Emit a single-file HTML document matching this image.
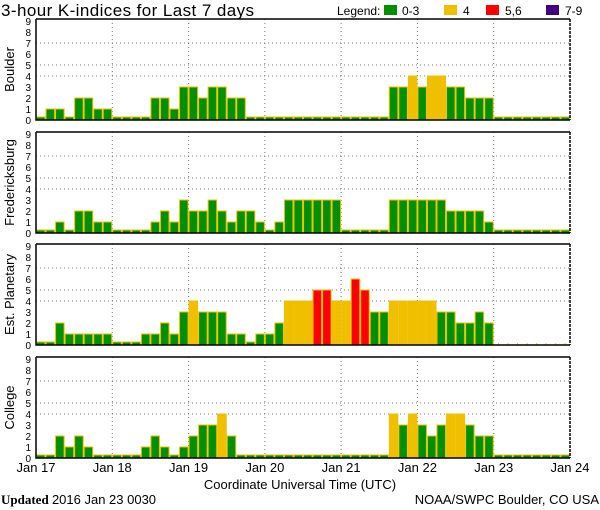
<!DOCTYPE html>
<html><head><meta charset="utf-8"><style>
body{margin:0;background:#fff;width:600px;height:510px;overflow:hidden}
svg{display:block;font-family:"Liberation Sans",sans-serif}
</style></head><body>
<svg id="chart" width="600" height="510" viewBox="0 0 600 510">
<text x="1" y="16" font-size="17" textLength="253">3-hour K-indices for Last 7 days</text>
<g font-size="12">
<text x="337" y="15">Legend:</text>
<rect x="384" y="5" width="13" height="10" fill="#009000"/><text x="402" y="15">0-3</text>
<rect x="444" y="5" width="13" height="10" fill="#f0c000"/><text x="463" y="15">4</text>
<rect x="486" y="5" width="13" height="10" fill="#ff0000"/><text x="505" y="15">5,6</text>
<rect x="546" y="5" width="13" height="10" fill="#400080"/><text x="565" y="15">7-9</text>
</g>
<text x="300" y="489" font-size="13" text-anchor="middle">Coordinate Universal Time (UTC)</text>
<text x="1" y="504" font-size="13" font-family="Liberation Serif,serif"><tspan font-weight="bold">Updated</tspan> <tspan font-family="Liberation Sans,sans-serif">2016 Jan 23 0030</tspan></text>
<text x="599" y="504" font-size="13" text-anchor="end">NOAA/SWPC Boulder, CO USA</text>
</svg>
<script>
const dayLabels = ["Jan 17","Jan 18","Jan 19","Jan 20","Jan 21","Jan 22","Jan 23","Jan 24"];
const stationNames = ["Boulder","Fredericksburg","Est. Planetary","College"];
const yTicks = [0,1,2,3,4,5,6,7,8,9];
const gridLevels = [4,5,7];
const boulder = [0,1,1,0,2,2,1,1, 0,0,0,0,2,2,1,3, 3,2,3,3,2,2,0,0, 0,0,0,0,0,0,0,0, 0,0,0,0,0,3,3,4, 3,4,4,3,3,2,2,2, 0,0,0,0,0,0,0,0];
const fredericksburg = [0,0,1,0,2,2,1,1, 0,0,0,0,1,2,1,3, 2,2,3,2,1,2,2,1, 0,1,3,3,3,3,3,3, 0,0,0,0,0,3,3,3, 3,3,3,2,2,2,2,1, 0,0,0,0,0,0,0,0];
const planetary = [0,0,2,1,1,1,1,1, 0,0,0,1,1,2,1,3, 4,3,3,3,1,1,0,1, 1,2,4,4,4,5,5,4, 4,6,5,3,3,4,4,4, 4,4,3,3,2,2,3,2, null,null,null,null,null,null,null,null];
const college = [0,0,2,1,2,1,0,0, 0,0,0,1,2,1,0,1, 2,3,3,4,2,0,0,0, 0,0,0,0,0,0,0,0, 0,0,0,0,0,4,3,4, 3,2,3,4,4,3,2,2, 0,0,0,0,0,0,0,0];
const series = [boulder, fredericksburg, planetary, college];

const NS="http://www.w3.org/2000/svg";
const svg=document.getElementById('chart');
const X0=36, X1=570, NBARS=56;
const panelTops=[19,132,244,357], PH=101;
function xScale(i){return X0+(X1-X0)*i/NBARS;}
function yScale(v,top){return top+PH-v*(PH-2)/9;}
function mk(tag,attrs,parent){const e=document.createElementNS(NS,tag);for(const k in attrs)e.setAttribute(k,attrs[k]);(parent||svg).appendChild(e);return e;}
function col(v){return v<=3?"#009000":v==4?"#f0c000":v<=6?"#ff0000":"#400080";}

series.forEach((data,p)=>{
  const top=panelTops[p], bot=top+PH;
  const g=mk('g',{});
  
  
  gridLevels.forEach(l=>{const ln=mk('line',{x1:X0,x2:X1,y1:yScale(l,top),y2:yScale(l,top),stroke:"#777","stroke-dasharray":"1,3"},g);
    });
  for(let d=1;d<7;d++){const x=xScale(d*8);const ln=mk('line',{x1:x,x2:x,y1:top,y2:bot,stroke:"#777","stroke-dasharray":"1,3"},g);
    }
  const bw=(X1-X0)/NBARS;
  data.forEach((v,i)=>{
    const x=xScale(i);
    if(v===null){const t=mk('rect',{x:x+bw/2-0.5,y:bot-2,width:1,height:2,fill:"#f0c000"},g);
      return;}
    const y=v===0?bot-3:yScale(v,top);
    const r=mk('rect',{x:x+0.5,y:y,width:bw-1,height:bot-y,fill:col(v),stroke:"#f0c000","stroke-width":1},g);
    
    
  });
  const f=mk('path',{d:`M${X0} ${top}H${X1}M${X0} ${top}V${bot}H${X1}`,stroke:"#000","stroke-width":1.5,fill:"none"},g);
  
  const rb=mk('line',{x1:X1,x2:X1,y1:top,y2:bot,stroke:"#000","stroke-width":1.5,"stroke-dasharray":"3,1"},g);
  
  yTicks.forEach(t=>{const tx=mk('text',{x:31,y:yScale(t,top)+4,"font-size":10,"text-anchor":"end"},g);tx.textContent=t;
    });
  const lab=mk('text',{x:0,y:0,"font-size":13,"text-anchor":"middle",transform:`translate(14,${top+PH/2}) rotate(-90)`},g);
  lab.textContent=stationNames[p];
  
});
dayLabels.forEach((d,i)=>{const t=mk('text',{x:xScale(i*8),y:472,"font-size":13,"text-anchor":"middle"});t.textContent=d;
  });
</script>
</body></html>
